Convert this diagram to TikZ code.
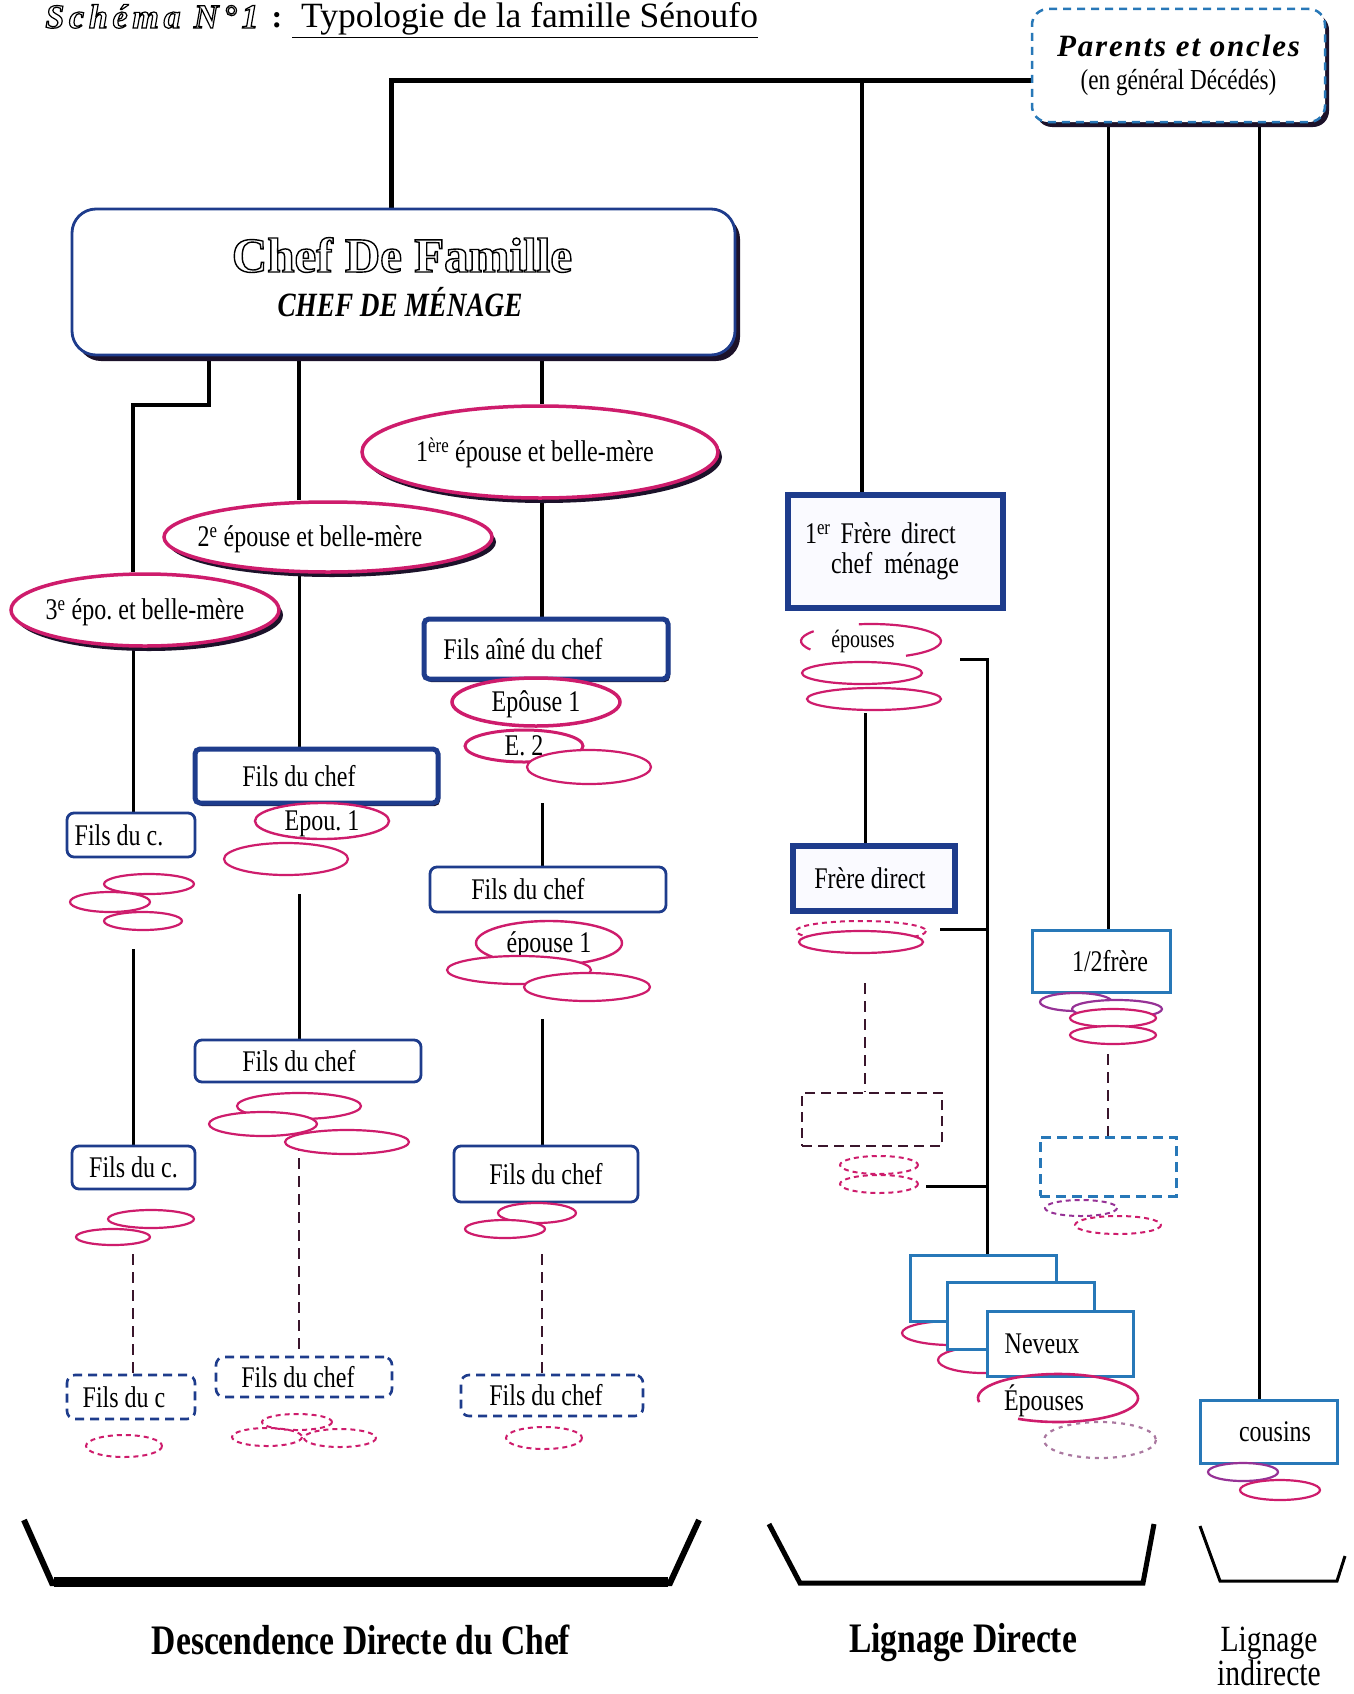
\documentclass[tikz,border=0pt]{standalone}
\usepackage{fontspec}
\setmainfont{Liberation Serif}
\newfontfamily\narrow[FakeStretch=0.8]{Liberation Serif}
\newfontfamily\spaced[LetterSpace=6]{Liberation Serif}
\newfontfamily\wide[LetterSpace=14]{Liberation Serif}
\usetikzlibrary{shapes.geometric,shadows}
\pgfdeclarelayer{bg}
\pgfsetlayers{bg,main}

\definecolor{navy}{RGB}{30,60,140}
\definecolor{rose}{RGB}{206,28,108}
\definecolor{steel}{RGB}{40,120,184}
\definecolor{umbra}{RGB}{28,18,42}
\definecolor{plum}{RGB}{58,22,44}
\definecolor{mist}{RGB}{170,120,160}
\definecolor{orchid}{RGB}{150,50,150}

% letters drawn as outlines only (PDF text render mode 1)
\newcommand\hollowtext[2]{\special{pdf:literal direct 1 Tr #1 w}#2\special{pdf:literal direct 0 Tr}}
% text centred in an ellipse without widening it
\newcommand\ctrtext[1]{\makebox[0pt]{\smash{\raisebox{-0.33em}{#1}}}}

\tikzset{
  lbl/.style={font=\narrow\fontsize{30}{30}\selectfont},
  wire/.style={line width=3pt, black},
  wirethick/.style={line width=4.5pt, black},
  dwire/.style={line width=2.6pt, draw=plum, dash pattern=on 11pt off 7pt},
  chefbox/.style={draw=navy, line width=2.8pt, rounded corners=24pt, fill=white,
    drop shadow={shadow xshift=5pt, shadow yshift=-6pt, fill=umbra, opacity=1}},
  parentbox/.style={draw=steel, line width=2.5pt, dash pattern=on 8pt off 6pt, rounded corners=16pt, fill=white,
    drop shadow={shadow xshift=4pt, shadow yshift=-5pt, fill=umbra, opacity=1}},
  heavybox/.style={draw=navy, line width=5pt, fill=white, rounded corners=5pt, inner sep=0pt, lbl,
    drop shadow={shadow xshift=2pt, shadow yshift=-3pt, fill=umbra, opacity=1}},
  squarebox/.style={draw=navy, line width=6pt, fill=blue!2, inner sep=0pt, lbl},
  plainbox/.style={draw=navy, line width=2.8pt, fill=white, rounded corners=7pt, inner sep=0pt, lbl},
  dashbox/.style={draw=navy, line width=2.6pt, dash pattern=on 9pt off 6pt, rounded corners=8pt, fill=white, inner sep=0pt, lbl},
  steelbox/.style={draw=steel, line width=3pt, fill=white, inner sep=0pt, lbl},
  steeldash/.style={draw=steel, line width=3pt, dash pattern=on 10pt off 6pt, inner sep=0pt},
  darkdash/.style={draw=plum, line width=2.8pt, dash pattern=on 10pt off 6pt, inner sep=0pt},
  bigell/.style={ellipse, draw=rose, line width=3.5pt, fill=white, inner sep=0pt, lbl,
    drop shadow={shadow xshift=4pt, shadow yshift=-5pt, fill=umbra, opacity=1}},
  midell/.style={ellipse, draw=rose, line width=3pt, fill=white, inner sep=0pt, lbl},
  ell/.style={draw=rose, line width=2.2pt, fill=white},
  dell/.style={draw=rose, line width=2pt, dash pattern=on 5pt off 4pt},
  bracket/.style={line width=5pt, black, line join=miter},
  caption/.style={font=\narrow\bfseries\fontsize{42}{42}\selectfont},
}

\begin{document}
\begin{tikzpicture}[x=1pt,y=-1pt]
\useasboundingbox (0,0) rectangle (1353,1694);
\begin{pgfonlayer}{bg}
  \fill[white] (0,0) rectangle (1353,1694);
\end{pgfonlayer}

% ---------- title ----------
\node[font=\wide\bfseries\itshape\fontsize{34}{34}\selectfont, anchor=base, inner sep=0pt] (schema) at (152,28)
  {\hollowtext{1.2}{Schéma N°1}};
\node[font=\bfseries\fontsize{32}{32}\selectfont, anchor=base] (colon) at (277,28) {:};
\node[font=\fontsize{35.5}{35.5}\selectfont, anchor=base west, inner sep=0pt] (subtitle) at (292,28)
  {\underline{\ Typologie de la famille Sénoufo}};

% ---------- heads ----------
\node[parentbox, minimum width=293pt, minimum height=113pt, align=center,
      font=\fontsize{31}{33}\selectfont] (parents) at (1178.5,65.5)
  {{\spaced\bfseries\itshape Parents et oncles}\\{\narrow\fontsize{29}{33}\selectfont (en général Décédés)}};

\node[chefbox, minimum width=663pt, minimum height=146pt] (chef) at (403.5,282) {};
\node[font=\bfseries\fontsize{49}{49}\selectfont, anchor=base, inner sep=0pt] (chefA) at (402,272)
  {\hollowtext{1.4}{Chef De Famille}};
\node[font=\narrow\bfseries\itshape\fontsize{34}{34}\selectfont, anchor=base] (chefB) at (400,316) {CHEF DE MÉNAGE};

% ---------- wives of the head ----------
\node[bigell, minimum width=356pt, minimum height=92pt] (e1) at (540,452)
  {\ctrtext{1\textsuperscript{ère} épouse et belle-mère\kern10pt}};
\node[bigell, minimum width=328pt, minimum height=70pt] (e2) at (328,537)
  {\ctrtext{2\textsuperscript{e} épouse et belle-mère\kern36pt}};
\node[bigell, minimum width=268pt, minimum height=72pt] (e3) at (145,610)
  {\ctrtext{3\textsuperscript{e} épo.\ et belle-mère}};

% ---------- column of the third wife ----------
\node[plainbox, minimum width=128pt, minimum height=44pt] (fc1) at (131,835) {Fils du c.\kern24pt};
\draw[ell] (149,884) ellipse [x radius=45, y radius=10];
\draw[ell] (110,902) ellipse [x radius=40, y radius=10];
\draw[ell] (143,921) ellipse [x radius=39, y radius=9];
\node[plainbox, minimum width=123pt, minimum height=43pt] (fc2) at (133.5,1167.5) {Fils du c.};
\draw[ell] (151,1219) ellipse [x radius=43, y radius=9];
\draw[ell] (113,1237) ellipse [x radius=37, y radius=8];
\node[dashbox, minimum width=128pt, minimum height=44pt] (fc3) at (131,1397) {Fils du c\kern14pt};
\draw[dell] (124,1446) ellipse [x radius=38, y radius=11];

% ---------- column of the second wife ----------
\node[heavybox, minimum width=243pt, minimum height=54pt] (fdc1) at (316.5,776) {Fils du chef\kern35pt};
\node[ellipse, draw=rose, line width=2.4pt, fill=white, inner sep=0pt, lbl,
      minimum width=134pt, minimum height=36pt] (ep2a) at (322,821) {\ctrtext{Epou.\ 1}};
\draw[ell] (286,859) ellipse [x radius=62, y radius=16];
\node[plainbox, minimum width=226pt, minimum height=42pt] (fdc2) at (308,1061) {Fils du chef\kern18pt};
\draw[ell] (299,1106) ellipse [x radius=62, y radius=13];
\draw[ell] (263,1124) ellipse [x radius=54, y radius=12];
\draw[ell] (347,1142) ellipse [x radius=62, y radius=12];
\node[dashbox, minimum width=176pt, minimum height=40pt] (fdc3) at (304,1377) {Fils du chef\kern12pt};
\draw[dell] (297,1422) ellipse [x radius=35, y radius=8];
\draw[dell] (267,1437) ellipse [x radius=35, y radius=9];
\draw[dell] (340,1438) ellipse [x radius=36, y radius=9];

% ---------- column of the first wife ----------
\node[heavybox, minimum width=244pt, minimum height=60pt] (fa) at (546,649) {Fils aîné du chef\kern46pt};
\node[midell, line width=3.5pt, minimum width=168pt, minimum height=48pt] (ea1) at (536,702) {\ctrtext{Epôuse 1}};
\node[midell, minimum width=118pt, minimum height=32pt] (ea2) at (524,746) {\ctrtext{E.\ 2}};
\draw[ell] (589,767) ellipse [x radius=62, y radius=17];
\node[plainbox, minimum width=236pt, minimum height=45pt] (fdc4) at (548,889.5) {Fils du chef\kern40pt};
\node[ellipse, draw=rose, line width=2.4pt, fill=white, inner sep=0pt, lbl,
      minimum width=146pt, minimum height=44pt] (ep4a) at (549,943) {\ctrtext{épouse 1}};
\draw[ell] (519,970) ellipse [x radius=72, y radius=14];
\draw[ell] (587,987) ellipse [x radius=63, y radius=14];
\node[plainbox, minimum width=184pt, minimum height=56pt] (fdc5) at (546,1174) {Fils du chef};
\draw[ell] (537,1213) ellipse [x radius=39, y radius=10];
\draw[ell] (505,1229) ellipse [x radius=40, y radius=9];
\node[dashbox, minimum width=182pt, minimum height=41pt] (fdc6) at (552,1395.5) {Fils du chef\kern12pt};
\draw[dell] (544,1438) ellipse [x radius=38, y radius=11];

% ---------- direct lineage ----------
\node[squarebox, minimum width=215pt, minimum height=113pt, text width=181pt, align=left] (fr1) at (895.5,551.5)
  {1\textsuperscript{er} Frère direct\\\hspace*{26pt}chef\hspace{12pt}ménage};
\draw[rose, line width=2.2pt] (871,641) ++(150:70 and 17) arc[start angle=150, end angle=215, x radius=70, y radius=17];
\draw[rose, line width=2.2pt] (871,641) ++(-100:70 and 17) arc[start angle=-100, end angle=60, x radius=70, y radius=17];
\node[font=\narrow\fontsize{25}{25}\selectfont] (eps) at (863,641) {épouses};
\draw[ell] (862,673) ellipse [x radius=60, y radius=11];
\draw[ell] (874,699) ellipse [x radius=67, y radius=11];

\node[squarebox, minimum width=162pt, minimum height=65pt] (fr2) at (874,878.5) {Frère direct\kern8pt};
\draw[dell] (861,931) ellipse [x radius=65, y radius=10];
\draw[ell] (861,942) ellipse [x radius=62, y radius=11];
\node[darkdash, minimum width=140pt, minimum height=53pt] (frd) at (872,1119.5) {};
\draw[dell] (879,1165) ellipse [x radius=39, y radius=9];
\draw[dell] (879,1184) ellipse [x radius=39, y radius=9];

% nephews: stacked cards over their wives
\draw[ell] (951,1333) ellipse [x radius=49, y radius=12];
\draw[ell] (983,1360) ellipse [x radius=45, y radius=13];
\node[steelbox, minimum width=146pt, minimum height=66pt] (nev1) at (983,1288) {};
\node[steelbox, minimum width=147pt, minimum height=67pt] (nev2) at (1020.5,1315.5) {};
\node[steelbox, minimum width=146pt, minimum height=65pt] (nev3) at (1060,1343.5) {Neveux\kern36pt};
\draw[rose, line width=2.6pt] (1058,1398) ++(170:80 and 24) arc[start angle=170, end angle=480, x radius=80, y radius=24];
\node[lbl] (epn) at (1044,1401) {Épouses};
\draw[mist, line width=2.2pt, dash pattern=on 4pt off 5pt] (1100,1440) ellipse [x radius=56, y radius=18];

% half-brother
\node[steelbox, minimum width=138pt, minimum height=62pt] (hf) at (1101,961) {\kern18pt 1/2frère};
\draw[ell, draw=orchid] (1076,1002) ellipse [x radius=36, y radius=9];
\draw[ell, draw=orchid] (1117,1009) ellipse [x radius=45, y radius=9];
\draw[ell] (1113,1018) ellipse [x radius=43, y radius=9];
\draw[ell] (1113,1035) ellipse [x radius=43, y radius=9];
\node[steeldash, minimum width=136pt, minimum height=59pt] (hfd) at (1108,1166.5) {};
\draw[dell, draw=orchid] (1081,1208) ellipse [x radius=36, y radius=8];
\draw[dell] (1118,1225) ellipse [x radius=43, y radius=9];

% ---------- indirect lineage ----------
\node[steelbox, minimum width=137pt, minimum height=63pt] (cou) at (1268.5,1431.5) {\kern13pt cousins};
\draw[ell, draw=orchid] (1243,1472) ellipse [x radius=35, y radius=9];
\draw[ell] (1280,1490) ellipse [x radius=40, y radius=10];

% ---------- connectors ----------
\coordinate (tl) at (391,80);
\coordinate (tf) at (862,80);
\coordinate (kb) at (209,405);
\coordinate (kc) at (133,405);
\coordinate (k1) at (133,0);
\coordinate (k2) at (299,0);
\coordinate (k3) at (542,0);
\coordinate (k5) at (1108,0);
\coordinate (k6) at (1259,0);
\coordinate (kr) at (987,0);
\coordinate (s1) at (133,949);
\coordinate (s1d) at (133,1254);
\coordinate (s2) at (299,894);
\coordinate (s2d) at (299,1140);
\coordinate (s3) at (542,803);
\coordinate (s3b) at (542,1019);
\coordinate (s3d) at (542,1254);
\coordinate (s4) at (865,713);
\coordinate (s4d) at (865,983);
\coordinate (s5d) at (1108,1054);
\coordinate (r1) at (960,659);
\coordinate (r2) at (940,929);
\coordinate (r3) at (926,1186);

\begin{pgfonlayer}{bg}
  \draw[wirethick, line width=5pt] (parents.west |- tl) -- (tl) -- (tl |- chef.north);
  \draw[wirethick] (tf) -- (tf |- fr1.north);
  \draw[wirethick, line join=miter] (kb |- chef.south) -- (kb) -- (kc) -- (kc |- e3.north);
  \draw[wirethick] (k2 |- chef.south) -- (k2 |- e2.north);
  \draw[wirethick] (k3 |- chef.south) -- (k3 |- e1.north);

  \draw[wire] (k1 |- e3.south) -- (k1 |- fc1.north);
  \draw[wire] (s1) -- (s1 |- fc2.north);
  \draw[dwire] (s1d) -- (s1d |- fc3.north);

  \draw[wire] (k2 |- e2.south) -- (k2 |- fdc1.north);
  \draw[wire] (s2) -- (s2 |- fdc2.north);
  \draw[dwire] (s2d) -- (s2d |- fdc3.north);

  \draw[wirethick] (k3 |- e1.south) -- (k3 |- fa.north);
  \draw[wire] (s3) -- (s3 |- fdc4.north);
  \draw[wire] (s3b) -- (s3b |- fdc5.north);
  \draw[dwire] (s3d) -- (s3d |- fdc6.north);

  \draw[wire] (s4) -- (s4 |- fr2.north);
  \draw[dwire] (s4d) -- (s4d |- frd.north);
  \draw[wire, line join=miter] (r1) -- (kr |- r1) -- (kr |- nev1.north);
  \draw[wire] (r2) -- (kr |- r2);
  \draw[wire] (r3) -- (kr |- r3);

  \draw[wire] (k5 |- parents.south) -- (k5 |- hf.north);
  \draw[dwire] (s5d) -- (s5d |- hfd.north);
  \draw[wire] (k6 |- parents.south) -- (k6 |- cou.north);
\end{pgfonlayer}

% ---------- group brackets and captions ----------
\draw[bracket, line width=6pt] (24,1520) -- (52,1583) -- (670,1583) -- (699,1520);
\draw[line width=10pt] (54,1582) -- (668,1582);
\draw[bracket] (769,1524) -- (800,1583) -- (1143,1583) -- (1154,1524);
\draw[bracket, line width=3pt] (1200,1526) -- (1220,1581) -- (1337,1581) -- (1345,1556);

\node[caption] (cap1) at (361,1640) {Descendence Directe du Chef};
\node[caption] (cap2) at (963,1643) {Lignage Directe};
\node[font=\narrow\fontsize{37}{34}\selectfont, align=center] (cap3) at (1269,1656) {Lignage\\indirecte};
\end{tikzpicture}
\end{document}
